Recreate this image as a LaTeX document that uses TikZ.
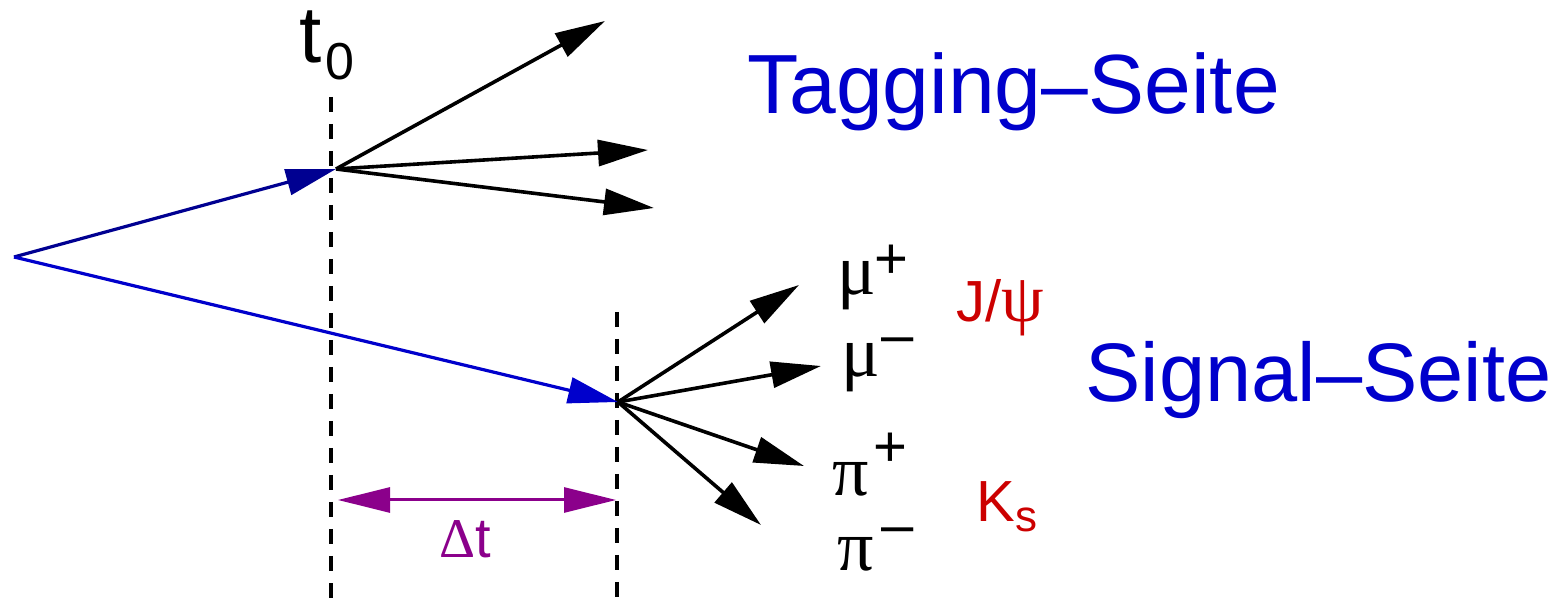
\documentclass[tikz,border=0pt]{standalone}
\usepackage{fontspec}
\setmainfont{Liberation Sans}
\newfontfamily\grk{Liberation Serif}
\usetikzlibrary{arrows.meta}
\definecolor{navy}{RGB}{0,0,145}
\definecolor{sigblue}{RGB}{0,0,204}
\definecolor{sigred}{RGB}{204,0,0}
\definecolor{dtpurple}{RGB}{139,0,139}
\newcommand{\gsz}{\fontsize{36}{36}\selectfont\grk}
\begin{document}
\begin{tikzpicture}[x=0.5pt,y=-0.5pt,
  trk/.style={line width=1.8pt,-{Triangle[length=25pt,width=13pt]}},
  vline/.style={line width=1.7pt,dash pattern=on 7.5pt off 6pt},
  lbl/.style={inner sep=0pt,anchor=base west},
  big/.style={lbl,text=sigblue,font=\fontsize{41.5}{41.5}\selectfont},
  part/.style={lbl,font=\fontsize{29}{29}\selectfont},
  res/.style={lbl,text=sigred,font=\fontsize{29}{29}\selectfont}]
\useasboundingbox (0,0) rectangle (1555,604);
% vertices
\coordinate (O) at (14,257);
\coordinate (V1) at (336,169);
\coordinate (V2) at (618,402);
% dashed time markers
\coordinate (d1t) at (331,97);
\coordinate (d1b) at (331,604);
\coordinate (d2t) at (617,312);
\coordinate (d2b) at (617,604);
\draw[vline] (d1t) -- (d1b);
\draw[vline] (d2t) -- (d2b);
% B mesons
\draw[trk,navy,line width=1.6pt] (O) -- (V1);
\draw[trk,sigblue,line width=1.6pt] (O) -- (V2);
% tagging side tracks
\coordinate (ta) at (605,21);
\coordinate (tb) at (648,150);
\coordinate (tc) at (654,208);
\draw[trk] (V1) -- (ta);
\draw[trk] (V1) -- (tb);
\draw[trk] (V1) -- (tc);
% signal side tracks
\coordinate (sa) at (799,285);
\coordinate (sb) at (821,366);
\coordinate (sc) at (804,466);
\coordinate (sd) at (761,525);
\draw[trk] (V2) -- (sa);
\draw[trk] (V2) -- (sb);
\draw[trk] (V2) -- (sc);
\draw[trk] (V2) -- (sd);
% delta t
\coordinate (dl) at (338,500);
\coordinate (dr) at (616,500);
\draw[line width=1.5pt,dtpurple,{Triangle[length=26pt,width=12.5pt]}-{Triangle[length=26pt,width=12.5pt]}] (dl) -- (dr);
\node[lbl,text=dtpurple,font=\fontsize{28}{28}\selectfont] (dt) at (439,558) {{\grk Δ}t};
% labels
\node[lbl,font=\fontsize{40}{40}\selectfont] (t0) at (299,63) {t\hspace{2pt}\raisebox{-8.5pt}{\fontsize{26}{26}\selectfont 0}};
\node[big,font=\fontsize{42}{42}\selectfont] (tag) at (747,114) {Tagging–Seite};
\node[big] (sig) at (1085,402) {Signal–Seite};
\node[part] (mup) at (837,295) {\makebox[18.5pt][l]{\gsz μ}\raisebox{8pt}{+}};
\node[part] (mum) at (841,377) {\makebox[20pt][l]{\gsz μ}\raisebox{11pt}{–}};
\node[part] (pip) at (832,495) {\makebox[20.5pt][l]{\gsz π}\raisebox{14pt}{+}};
\node[part] (pim) at (837,570) {\makebox[22pt][l]{\gsz π}\raisebox{13pt}{–}};
\node[res] (jpsi) at (956,322) {J/{\fontsize{34}{34}\selectfont\grk ψ}};
\node[res] (ks) at (976,522) {K\raisebox{-5pt}{\fontsize{22}{22}\selectfont s}};
\end{tikzpicture}
\end{document}
